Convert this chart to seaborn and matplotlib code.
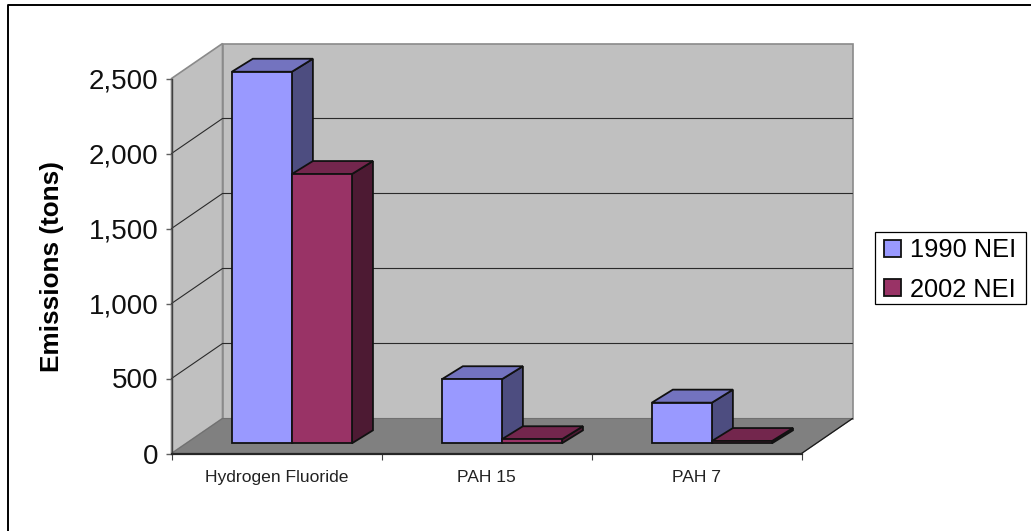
import matplotlib
matplotlib.use("Agg")
import matplotlib.pyplot as plt
from matplotlib.lines import Line2D
from matplotlib.patches import Patch, Polygon, Rectangle
from matplotlib.transforms import Affine2D
import pandas as pd
import seaborn as sns

categories = ["Hydrogen Fluoride", "PAH 15", "PAH 7"]
series_names = ["1990 NEI", "2002 NEI"]
values_1990 = [2477, 427, 271]
values_2002 = [1795, 27, 15]
y_ticks = [0, 500, 1000, 1500, 2000, 2500]
y_title = "Emissions (tons)"

front_colors = ["#9999FF", "#993366"]
side_colors = ["#4D4D80", "#4D1A33"]
top_colors = ["#7373BF", "#73264D"]

W, H = 1031, 531
PLOT_L, PLOT_R, PLOT_T, PLOT_B = 171.5, 801.5, 78.5, 453.5
WALL_DX, WALL_DY = 51, -35
BAR_DX, BAR_DY = 15.4, -10.2
DEPTH_DX, DEPTH_DY = 21, -13
EDGE_LW = 1.3

sns.set_theme(style="white")
plt.rcParams["font.family"] = ["Liberation Sans", "DejaVu Sans"]

fig = plt.figure(figsize=(W / 100, H / 100), dpi=100, facecolor="white")
px = Affine2D().scale(1, -1).translate(0, H)


def axes_at(left, right, top, bottom):
    return fig.add_axes([left / W, 1 - bottom / H, (right - left) / W, (bottom - top) / H])


# Plot frame: front plane carries the axes, ticks and labels
ax = axes_at(PLOT_L, PLOT_R, PLOT_T, PLOT_B)
ax.patch.set_visible(False)
ax.set_xlim(-0.5, len(categories) - 0.5)
ax.set_ylim(y_ticks[0], y_ticks[-1])
for name, sp in ax.spines.items():
    sp.set_visible(name in ("left", "bottom"))
ax.spines["left"].set_color("#404040")
ax.spines["left"].set_linewidth(1.0)
ax.spines["bottom"].set_color("#262626")
ax.spines["bottom"].set_linewidth(1.6)
ax.set_yticks(y_ticks)
ax.set_yticklabels([f"{v:,}" for v in y_ticks], fontsize=20, color="#111111")
ax.tick_params(axis="y", left=True, length=4.6, width=1, color="#606060", pad=5)
ax.set_xticks([i - 0.5 for i in range(len(categories) + 1)])
ax.set_xticklabels([])
ax.tick_params(axis="x", which="major", bottom=True, length=4.3, width=0.8, color="#404040")
ax.set_xticks(range(len(categories)), minor=True)
ax.set_xticklabels(categories, minor=True, fontsize=12.6, color="#222222")
ax.tick_params(axis="x", which="minor", bottom=False, length=0, pad=12)
fig.text(52 / W, 1 - 267 / H, y_title, rotation=90, ha="center", va="center",
         fontsize=18.8, fontweight="bold", color="black")

# Walls and floor of the 3-D box
def back(x, y):
    return (x + WALL_DX, y + WALL_DY)


floor = [(PLOT_L, PLOT_B), back(PLOT_L, PLOT_B), back(PLOT_R, PLOT_B), (PLOT_R, PLOT_B)]
side_wall = [(PLOT_L, PLOT_T), back(PLOT_L, PLOT_T), back(PLOT_L, PLOT_B), (PLOT_L, PLOT_B)]
back_wall = [back(PLOT_L, PLOT_T), back(PLOT_R, PLOT_T), back(PLOT_R, PLOT_B), back(PLOT_L, PLOT_B)]
for poly, fc in ((side_wall, "#C0C0C0"), (back_wall, "#C0C0C0")):
    fig.add_artist(Polygon(poly, closed=True, fc=fc, ec="#8A8A8A", lw=1.2, transform=px, zorder=-3))
fig.add_artist(Polygon(floor, closed=True, fc="#808080", ec="#707070", lw=0.8, transform=px, zorder=-2))
fig.add_artist(Line2D([PLOT_R, back(PLOT_R, PLOT_B)[0]], [PLOT_B, back(PLOT_R, PLOT_B)[1]],
                      color="#1A1A1A", lw=0.9, transform=px, zorder=-1))
for v in y_ticks[1:-1]:
    yp = px.inverted().transform(ax.transData.transform((0, v)))[1]
    bx, by = back(PLOT_L, yp)
    bx2, _ = back(PLOT_R, yp)
    fig.add_artist(Line2D([PLOT_L, bx, bx2], [yp, by, by], color="#2A2A2A", lw=0.8,
                          transform=px, zorder=-1))

# Bars: seaborn draws the front faces on an axes shifted into the box
bar_ax = axes_at(PLOT_L + BAR_DX, PLOT_R + BAR_DX, PLOT_T + BAR_DY, PLOT_B + BAR_DY)
bar_ax.patch.set_visible(False)
df = pd.DataFrame({
    "category": categories * 2,
    "series": [series_names[0]] * 3 + [series_names[1]] * 3,
    "value": values_1990 + values_2002,
})
sns.barplot(data=df, x="category", y="value", hue="series", hue_order=series_names,
            palette=front_colors, width=0.572, gap=0, saturation=1, legend=False,
            edgecolor="#111111", linewidth=EDGE_LW, ax=bar_ax)
bar_ax.set_xlim(-0.5, len(categories) - 0.5)
bar_ax.set_ylim(y_ticks[0], y_ticks[-1])
bar_ax.set_axis_off()

to_px = bar_ax.transData + px.inverted()
for s_i, container in enumerate(bar_ax.containers):
    for rect in container:
        x0, y0 = to_px.transform((rect.get_x(), 0))
        x1, y1 = to_px.transform((rect.get_x() + rect.get_width(), rect.get_height()))
        side = [(x1, y1), (x1 + DEPTH_DX, y1 + DEPTH_DY), (x1 + DEPTH_DX, y0 + DEPTH_DY), (x1, y0)]
        top = [(x0, y1), (x0 + DEPTH_DX, y1 + DEPTH_DY), (x1 + DEPTH_DX, y1 + DEPTH_DY), (x1, y1)]
        for poly, fc in ((side, side_colors[s_i]), (top, top_colors[s_i])):
            bar_ax.add_patch(Polygon(poly, closed=True, fc=fc, ec="#111111", lw=EDGE_LW, transform=px,
                                     clip_on=False, joinstyle="miter", zorder=0.5 + 0.1 * s_i))
        rect.set_zorder(1 + 0.1 * s_i)
        rect.set_clip_on(False)

# Legend: box drawn separately so its tight vertical padding can match
fig.add_artist(Rectangle((875, 232), 150.5, 72, fc="white", ec="black", lw=0.9, transform=px, zorder=3))
handles = [Patch(fc=c, ec="#111111", lw=1.3, label=n) for c, n in zip(front_colors, series_names)]
leg = fig.legend(handles=handles, loc="center left", bbox_to_anchor=(884 / W, 1 - 270 / H),
                 borderaxespad=0, frameon=False, fontsize=18.3, handlelength=0.66,
                 handleheight=0.62, handletextpad=0.36, labelspacing=0.6, borderpad=0,
                 labelcolor="black")
leg.set_zorder(4)

# Chart frame (top and left edges)
fig.add_artist(Line2D([8, 8, W], [H, 4.5, 4.5], color="black", lw=1.4, transform=px, zorder=5))

fig.savefig("out.png", dpi=100, facecolor="white")
